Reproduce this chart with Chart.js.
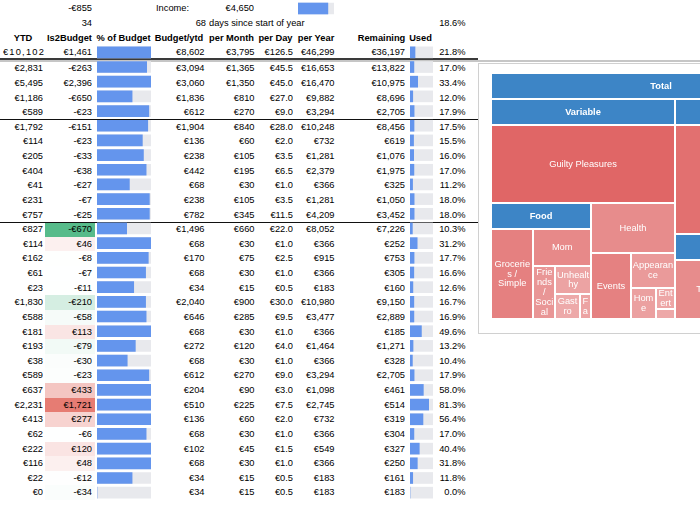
<!DOCTYPE html>
<html>
<head>
<meta charset="utf-8">
<title>Budget sheet</title>
<script src="https://cdn.jsdelivr.net/npm/chart.js"></script>
<style>
  html, body { margin: 0; padding: 0; background: #fff; }
  #sheet {
    position: relative; width: 700px; height: 525px; overflow: hidden;
    font-family: "Liberation Sans", Arial, sans-serif; font-size: 9.3px; color: #000;
  }
  .cell { position: absolute; white-space: nowrap; overflow: hidden; }
  .bold { font-weight: bold; }
  .rule, .bg { position: absolute; }
  canvas { position: absolute; }
  #pane {
    position: absolute; left: 478px; top: 62.5px; width: 400px; height: 269.5px;
    border: 1px solid #d0d0d0; background: #fff;
  }
</style>
</head>
<body>
<div id="sheet"></div>
<script>
// ---- summary rows ----
const netBalance = -855;
const income = 4650;
const incomeUsed = 0.83;
const counter = 34;
const daysSinceStart = 68;
const yearShare = 18.6;

const headers = ['YTD', 'Is2Budget', '% of Budget', 'Budget/ytd', 'per Month', 'per Day', 'per Year', 'Remaining', 'Used'];

// ---- budget rows (first one is the total line) ----
const ytd = [10102, 2831, 5495, 1186, 589, 1792, 114, 205, 404, 41, 231, 757, 827, 114, 162, 61, 23, 1830, 588, 181, 193, 38, 589, 637, 2231, 413, 62, 222, 116, 22, 0];
const is2Budget = [1461, -263, 2396, -650, -23, -151, -23, -33, -38, -27, -7, -25, -670, 46, -8, -7, -11, -210, -58, 113, -79, -30, -23, 433, 1721, 277, -6, 120, 48, -12, -34];
const budgetShare = [1, 0.92, 1, 0.65, 0.96, 0.94, 0.84, 0.86, 0.91, 0.6, 0.97, 0.97, 0.55, 1, 0.95, 0.9, 0.68, 0.9, 0.91, 1, 0.71, 0.56, 0.96, 1, 1, 1, 0.91, 1, 1, 0.65, 0];
const budgetYtd = [8602, 3094, 3060, 1836, 612, 1904, 136, 238, 442, 68, 238, 782, 1496, 68, 170, 68, 34, 2040, 646, 68, 272, 68, 612, 204, 510, 136, 68, 102, 68, 34, 34];
const perMonth = [3795, 1365, 1350, 810, 270, 840, 60, 105, 195, 30, 105, 345, 660, 30, 75, 30, 15, 900, 285, 30, 120, 30, 270, 90, 225, 60, 30, 45, 30, 15, 15];
const perDay = [126.5, 45.5, 45.0, 27.0, 9.0, 28.0, 2.0, 3.5, 6.5, 1.0, 3.5, 11.5, 22.0, 1.0, 2.5, 1.0, 0.5, 30.0, 9.5, 1.0, 4.0, 1.0, 9.0, 3.0, 7.5, 2.0, 1.0, 1.5, 1.0, 0.5, 0.5];
const perYear = [46299, 16653, 16470, 9882, 3294, 10248, 732, 1281, 2379, 366, 1281, 4209, 8052, 366, 915, 366, 183, 10980, 3477, 366, 1464, 366, 3294, 1098, 2745, 732, 366, 549, 366, 183, 183];
const remaining = [36197, 13822, 10975, 8696, 2705, 8456, 619, 1076, 1975, 325, 1050, 3452, 7226, 252, 753, 305, 160, 9150, 2889, 185, 1271, 328, 2705, 461, 514, 319, 304, 327, 250, 161, 183];
const usedPct = [21.8, 17.0, 33.4, 12.0, 17.9, 17.5, 15.5, 16.0, 17.0, 11.2, 18.0, 18.0, 10.3, 31.2, 17.7, 16.6, 12.6, 16.7, 16.9, 49.6, 13.2, 10.4, 17.9, 58.0, 81.3, 56.4, 17.0, 40.4, 31.8, 11.8, 0.0];

// ---- treemap ----
const tmGroups = ['Total', 'Variable', 'Fixed', 'Food', 'Bills'];
const tmGroupParents = [null, 'Total', 'Total', 'Variable', 'Fixed'];
const tmNames = ['Guilty Pleasures', 'Groceries / Simple', 'Mom', 'Friends / Social', 'Unhealthy', 'Gastro', 'Fast food', 'Health', 'Events', 'Appearance', 'Home', 'Entertainment', 'Other', 'Rent', 'Transport', 'Utilities', 'Phone'];
const tmParents = ['Variable', 'Food', 'Food', 'Food', 'Food', 'Food', 'Food', 'Variable', 'Variable', 'Variable', 'Variable', 'Variable', 'Variable', 'Fixed', 'Bills', 'Bills', 'Bills'];
const tmSizes = [663, 228, 127, 69, 62, 39, 16, 194, 123, 72, 37, 19, 8, 790, 322, 170, 120];
const tmHeat = [1.0, 0.75, 0.66, 0.53, 0.40, 0.34, 0.40, 0.63, 0.74, 0.49, 0.43, 0.37, 0.35, 0.9, 0.63, 0.5, 0.5];

const BLUE = '#6495ed';
const TRACK = '#e8e9ed';
const ROW_H = 14.62;
const FIRST_DATA_ROW = 3;
const COLOR_FROM = 12; // conditional colours only on the lower block

const sheet = document.getElementById('sheet');

function rowTop(i) {
    return 1.4 + i * ROW_H + (i >= 4 ? 1.5 : 0);
}

function euro(v) {
    const s = '€' + Math.abs(v).toLocaleString('en-US');
    return v < 0 ? '-' + s : s;
}

function addText(text, x, row, align, bold) {
    const d = document.createElement('div');
    d.className = 'cell' + (bold ? ' bold' : '');
    d.style.top = rowTop(row) + 'px';
    d.style.height = ROW_H + 'px';
    d.style.lineHeight = ROW_H + 'px';
    if (align === 'right') {
        d.style.left = (x - 120) + 'px';
        d.style.width = '120px';
        d.style.textAlign = 'right';
    } else if (align === 'center') {
        d.style.left = (x - 60) + 'px';
        d.style.width = '120px';
        d.style.textAlign = 'center';
    } else {
        d.style.left = x + 'px';
    }
    d.textContent = text;
    sheet.appendChild(d);
    return d;
}

function addRule(top, height, width, color) {
    const r = document.createElement('div');
    r.className = 'rule';
    r.style.cssText = `left:0;top:${top}px;height:${height}px;width:${width}px;background:${color}`;
    sheet.appendChild(r);
}

function mix(a, b, t) {
    return 'rgb(' + a.map((c, i) => Math.round(c + (b[i] - c) * t)).join(',') + ')';
}

// green / white / red colour scale like the sheet's conditional format
function scaleColor(v, min, max) {
    const white = [255, 255, 255];
    if (v < 0) return mix(white, [87, 187, 138], Math.pow(v / min, 1.2));
    return mix(white, [230, 124, 115], Math.pow(v / max, 0.6));
}

// ---- table ----
const colored = is2Budget.slice(COLOR_FROM);
const cMin = Math.min(...colored), cMax = Math.max(...colored);
is2Budget.forEach((v, i) => {
    if (i < COLOR_FROM) return;
    const row = i + FIRST_DATA_ROW;
    const bg = document.createElement('div');
    bg.className = 'bg';
    bg.style.cssText = `left:45px;width:50px;top:${rowTop(row)}px;height:${rowTop(row + 1) - rowTop(row)}px;background:${scaleColor(v, cMin, cMax)}`;
    sheet.appendChild(bg);
});

addRule(58, 1.7, 478, '#3a3a3a');
addRule(60.2, 2.3, 700, '#c6c6c6');
addRule(rowTop(8) - 0.6, 1.1, 478, '#111');
addRule(rowTop(15) - 0.6, 1.1, 478, '#111');

const pane = document.createElement('div');
pane.id = 'pane';
sheet.appendChild(pane);

addText(euro(netBalance), 92, 0, 'right');
addText('Income:', 156, 0, 'left');
addText(euro(income), 254, 0, 'right');
addText(String(counter), 92, 1, 'right');
addText(String(daysSinceStart), 206, 1, 'right');
addText('days since start of year', 209, 1, 'left');
addText(yearShare.toFixed(1) + '%', 465.5, 1, 'right');

const headerCenters = [23, 69.5, 123.5, 179, 231.5, 275.5, 316, 381.5, 420.5];
headers.forEach((h, i) => addText(h, headerCenters[i], 2, 'center', true));

ytd.forEach((v, i) => {
    const row = i + FIRST_DATA_ROW;
    if (i === 0) {
        // too wide for its cell in the sheet, so it gets cut at the edge
        const d = addText(euro(v), 3, row, 'left');
        d.style.width = '42px';
        d.style.letterSpacing = '1.2px';
    } else {
        addText(euro(v), 43, row, 'right');
    }
    addText(euro(is2Budget[i]), 92, row, 'right');
    addText(euro(budgetYtd[i]), 204.5, row, 'right');
    addText(euro(perMonth[i]), 254.5, row, 'right');
    addText('€' + perDay[i].toFixed(1), 293, row, 'right');
    addText(euro(perYear[i]), 334.5, row, 'right');
    addText(euro(remaining[i]), 405, row, 'right');
    addText(usedPct[i].toFixed(1) + '%', 465.5, row, 'right');
});

// ---- in-cell bars ----
function barChart(left, width, firstRow, values, max) {
    const c = document.createElement('canvas');
    const top = rowTop(firstRow);
    c.width = width;
    c.height = Math.round(rowTop(firstRow + values.length) - top);
    c.style.left = left + 'px';
    c.style.top = top + 'px';
    sheet.appendChild(c);
    new Chart(c, {
        type: 'bar',
        data: {
            labels: values.map((v, i) => String(i)),
            datasets: [
                { data: values, backgroundColor: BLUE, barThickness: 11, grouped: false, order: 0 },
                { data: values.map(() => max), backgroundColor: TRACK, barThickness: 11, grouped: false, order: 1 }
            ]
        },
        options: {
            indexAxis: 'y',
            responsive: false,
            animation: false,
            events: [],
            layout: { padding: 0 },
            plugins: { legend: { display: false }, tooltip: { enabled: false } },
            scales: {
                x: { display: false, min: 0, max: max },
                y: { display: false }
            }
        }
    });
}

barChart(298, 36, 0, [incomeUsed], 1);
barChart(97, 54, FIRST_DATA_ROW, budgetShare, 1);
barChart(410, 23, FIRST_DATA_ROW, usedPct, 100);

// ---- treemap ----
const HEADER_H = 24;
const GAP = 2;
const LINE_H = 9.8;
const TM_FONT = '9.3px "Liberation Sans", Arial, sans-serif';

function buildTree() {
    const nodes = {};
    tmGroups.forEach(g => { nodes[g] = { name: g, group: true, children: [] }; });
    tmNames.forEach((n, i) => {
        nodes[tmParents[i]].children.push({ name: n, size: tmSizes[i], heat: tmHeat[i] });
    });
    tmGroups.forEach((g, i) => {
        if (tmGroupParents[i]) nodes[tmGroupParents[i]].children.push(nodes[g]);
    });
    return nodes.Total;
}

function nodeSize(n) {
    return n.group ? n.children.reduce((s, c) => s + nodeSize(c), 0) : n.size;
}

// biggest child takes a slice along the longer side, the rest is split again
function layoutNode(n, x, y, w, h, out) {
    if (n.group) {
        out.push({ header: true, name: n.name, x, y, w, h: HEADER_H });
        const kids = n.children.slice().sort((a, b) => nodeSize(b) - nodeSize(a));
        sliceList(kids, x, y + HEADER_H + GAP, w, h - HEADER_H - GAP, out);
    } else {
        out.push({ header: false, name: n.name, heat: n.heat, x, y, w, h });
    }
}

function sliceList(list, x, y, w, h, out) {
    if (list.length === 1) { layoutNode(list[0], x, y, w, h, out); return; }
    const sum = list.reduce((s, c) => s + nodeSize(c), 0);
    const f = nodeSize(list[0]) / sum;
    if (w >= h) {
        const fw = (w - GAP) * f;
        layoutNode(list[0], x, y, fw, h, out);
        sliceList(list.slice(1), x + fw + GAP, y, w - fw - GAP, h, out);
    } else {
        const fh = (h - GAP) * f;
        layoutNode(list[0], x, y, w, fh, out);
        sliceList(list.slice(1), x, y + fh + GAP, w, h - fh - GAP, out);
    }
}

function wrapLabel(ctx, text, maxW) {
    const lines = [];
    let line = '';
    text.split(' ').forEach(word => {
        const cand = line ? line + ' ' + word : word;
        if (ctx.measureText(cand).width <= maxW) { line = cand; return; }
        if (line) lines.push(line);
        let part = '';
        for (const ch of word) {
            if (part && ctx.measureText(part + ch).width > maxW) {
                lines.push(part);
                part = ch;
            } else {
                part += ch;
            }
        }
        line = part;
    });
    if (line) lines.push(line);
    return lines;
}

const treemapPlugin = {
    id: 'treemap',
    afterDraw(chart) {
        const { ctx, scales: { x, y } } = chart;
        const left = x.getPixelForValue(0), right = x.getPixelForValue(1);
        const top = y.getPixelForValue(1), bottom = y.getPixelForValue(0);
        const cells = [];
        layoutNode(buildTree(), left, top, right - left, bottom - top, cells);

        ctx.save();
        cells.forEach(c => {
            const x0 = Math.round(c.x), y0 = Math.round(c.y);
            const x1 = Math.round(c.x + c.w), y1 = Math.round(c.y + c.h);
            ctx.fillStyle = c.header ? '#3d85c6' : mix([244, 204, 204], [224, 102, 102], c.heat);
            ctx.fillRect(x0, y0, x1 - x0, y1 - y0);

            ctx.save();
            ctx.beginPath();
            ctx.rect(x0, y0, x1 - x0, y1 - y0);
            ctx.clip();
            ctx.fillStyle = '#fff';
            ctx.textAlign = 'center';
            ctx.textBaseline = 'middle';
            const cx = c.x + c.w / 2, cy = c.y + c.h / 2;
            if (c.header) {
                ctx.font = 'bold ' + TM_FONT;
                ctx.fillText(c.name, cx, cy);
            } else {
                ctx.font = TM_FONT;
                let lines = wrapLabel(ctx, c.name, c.w - 1);
                const fit = Math.floor((c.h + 1) / LINE_H);
                lines = lines.slice(0, fit);
                const start = cy - (lines.length - 1) * LINE_H / 2;
                lines.forEach((ln, i) => ctx.fillText(ln, cx, start + i * LINE_H));
            }
            ctx.restore();
        });
        ctx.restore();
    }
};

const tm = document.createElement('canvas');
tm.width = 338;
tm.height = 244;
tm.style.left = '492px';
tm.style.top = '74px';
sheet.appendChild(tm);

new Chart(tm, {
    type: 'scatter',
    data: { datasets: [] },
    options: {
        responsive: false,
        animation: false,
        events: [],
        layout: { padding: 0 },
        plugins: { legend: { display: false }, tooltip: { enabled: false } },
        scales: {
            x: { display: false, min: 0, max: 1 },
            y: { display: false, min: 0, max: 1 }
        }
    },
    plugins: [treemapPlugin]
});
</script>
</body>
</html>
